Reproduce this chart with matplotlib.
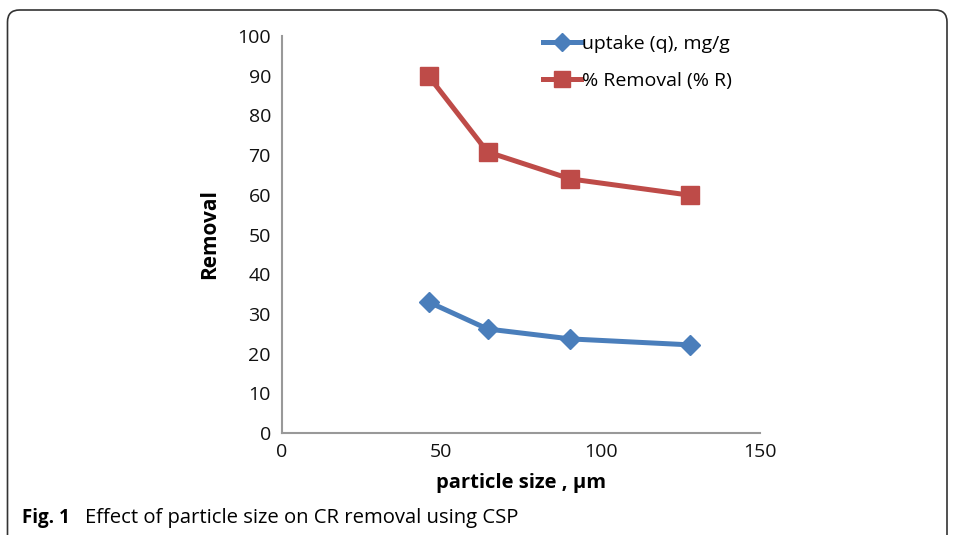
import matplotlib
matplotlib.use("Agg")
import matplotlib.pyplot as plt
from matplotlib.patches import FancyBboxPatch
from matplotlib.lines import Line2D

particle_size = [46, 64.5, 90.5, 128]
uptake = [33.0, 26.2, 23.7, 22.2]
removal = [89.9, 70.8, 64.0, 59.9]
series_names = ["uptake (q), mg/g", "% Removal (% R)"]
x_ticks = [0, 50, 100, 150]
y_ticks = list(range(0, 101, 10))

W, H = 955, 535
fig = plt.figure(figsize=(W / 100, H / 100), dpi=100)

# outer rounded frame (in inches, origin bottom-left)
frame = FancyBboxPatch((0.075, -0.25), 9.47 - 0.075, 5.25 + 0.25,
                       boxstyle="round,pad=0,rounding_size=0.12",
                       transform=fig.dpi_scale_trans, fill=False,
                       edgecolor="#333333", linewidth=1.2, clip_on=False)
fig.patches.append(frame)

ax = fig.add_axes([282 / W, 1 - 433 / H, (760 - 282) / W, (433 - 36) / H])
blue = "#4A7EBB"
red = "#BE4B48"
ax.plot(particle_size, uptake, color=blue, lw=3.6, marker="D", ms=10,
        mfc=blue, mec=blue, label=series_names[0], solid_capstyle="round")
ax.plot(particle_size, removal, color=red, lw=3.6, marker="s", ms=13,
        mfc=red, mec=red, label=series_names[1], solid_capstyle="round")

ax.set_xlim(0, 150)
ax.set_ylim(0, 100)
ax.set_xticks(x_ticks)
ax.set_yticks(y_ticks)
tick_font = {"family": "Open Sans", "size": 14}
ax.set_xticklabels([str(v) for v in x_ticks], fontdict=tick_font)
ax.set_yticklabels([str(v) for v in y_ticks], fontdict=tick_font)
ax.tick_params(axis="x", length=0, pad=7, colors="#111111")
ax.tick_params(axis="y", length=0, pad=8, colors="#111111")
for s in ["top", "right"]:
    ax.spines[s].set_visible(False)
for s in ["left", "bottom"]:
    ax.spines[s].set_color("#999999")
    ax.spines[s].set_linewidth(1.5)

ax.set_xlabel("particle size , µm", fontfamily="Open Sans", fontweight="bold",
              fontsize=14.5, labelpad=9)
ax.set_ylabel("Removal", fontfamily="Open Sans", fontweight="bold",
              fontsize=15, labelpad=12)

handles = [Line2D([0], [0], color=blue, lw=3.6, marker="D", ms=9),
           Line2D([0], [0], color=red, lw=3.6, marker="s", ms=11)]
leg = fig.legend(handles, series_names, loc="upper left",
                 bbox_to_anchor=(525 / W, 1 - 17 / H), frameon=False,
                 prop={"family": "Open Sans", "size": 14},
                 handlelength=2.0, handletextpad=0.05, labelspacing=0.98)

fig.text(22 / W, 1 - 518 / H, "Fig. 1", fontfamily="Open Sans",
         fontweight="bold", fontsize=13.5, va="center", ha="left")
fig.text(85 / W, 1 - 518 / H, "Effect of particle size on CR removal using CSP",
         fontfamily="Open Sans", fontsize=14.6, va="center", ha="left")

fig.savefig("out.png", dpi=100)
